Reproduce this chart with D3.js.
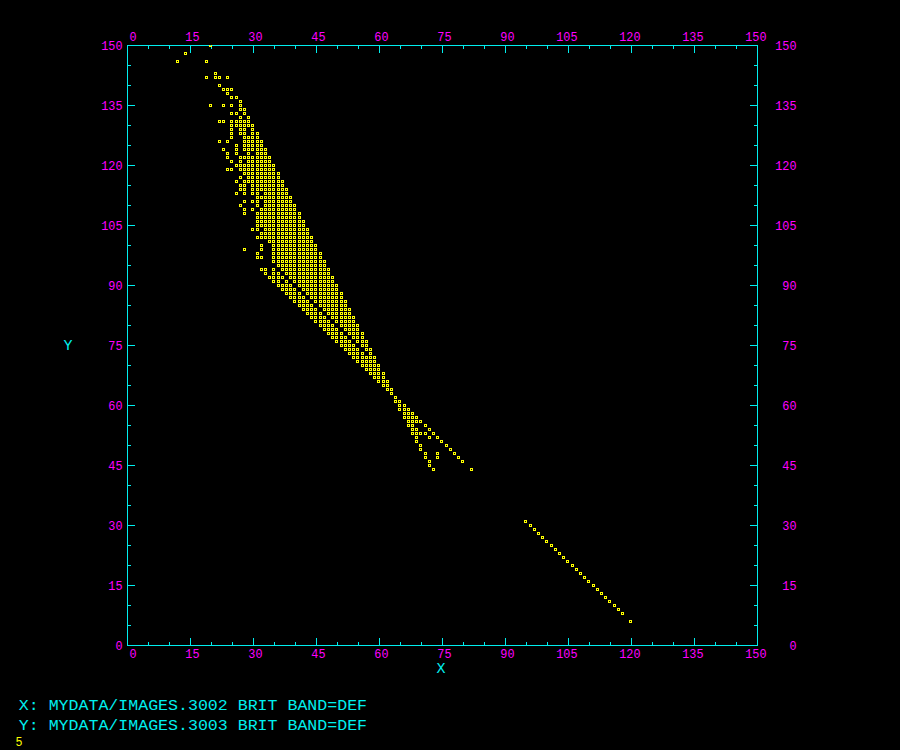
<!DOCTYPE html>
<html>
<head>
<meta charset="utf-8">
<script src="https://cdn.jsdelivr.net/npm/d3@7"></script>
<style>
html,body{margin:0;padding:0;background:#000;overflow:hidden}
svg{display:block;background:#000}
text{font-family:"Liberation Mono",monospace}
</style>
</head>
<body>
<svg id="chart" width="900" height="750"></svg>
<script>
const axisDomain = [0, 150];
const majorTicks = [0, 15, 30, 45, 60, 75, 90, 105, 120, 135, 150];
const minorTicks = [5, 10, 20, 25, 35, 40, 50, 55, 65, 70, 80, 85, 95, 100, 110, 115, 125, 130, 140, 145];
const xTitle = "X";
const yTitle = "Y";
const footerLines = ["X: MYDATA/IMAGES.3002 BRIT BAND=DEF", "Y: MYDATA/IMAGES.3003 BRIT BAND=DEF"];
const cornerNumber = "5";

const scatterRows = [
[150,[20]],[148,[14]],[146,[12,19]],[143,[21]],[142,[19,21,22,24]],[140,[22]],
[139,[23,24,25]],[138,[24]],[137,[25,26]],[136,[27]],[135,[20,23,25,27]],[134,[27,28]],
[133,[25,26,28]],[132,[27,29]],[131,[22,23,25,26,27,28,29]],[130,[25,26,27,28,29,30]],
[129,[25,27,28,30]],[128,[25,27,28,30,31]],[127,[25,28,29,30,31]],[126,[22,24,28,29,30,31,32]],
[125,[26,28,29,30,31,32]],[124,[23,26,28,29,30,31,32,33]],[123,[24,26,29,31,32,33]],
[122,[24,27,28,29,30,31,32,33,34]],[121,[25,27,29,30,31,32,33,34]],
[120,[26,27,28,29,30,31,32,33,34,35]],[119,[24,25,27,28,29,30,31,32,33,34,35]],
[118,[28,29,30,31,32,33,34,35,36]],[117,[27,29,30,31,32,33,34,35,36]],
[116,[26,28,29,30,31,32,33,34,35,36,37]],[115,[27,28,30,31,32,33,34,35,36,37]],
[114,[27,28,30,31,32,33,34,35,36,37,38]],[113,[26,28,30,31,33,34,35,36,37,38]],
[112,[31,32,33,34,35,36,37,38,39]],[111,[28,30,31,33,34,35,36,37,38,39]],
[110,[27,31,33,34,35,36,37,38,39,40]],[109,[28,30,32,33,34,35,36,37,38,39,40]],
[108,[28,31,32,33,34,35,36,37,38,39,40,41]],[107,[31,32,33,34,35,36,37,38,39,40,41]],
[106,[31,32,33,34,35,36,37,38,39,40,41,42]],[105,[31,32,33,34,35,36,37,38,39,40,41,42]],
[104,[30,31,33,34,35,36,37,38,39,40,41,42,43]],[103,[32,33,34,35,36,37,38,39,40,41,42,43]],
[102,[31,32,33,34,35,36,37,38,39,40,41,42,43,44]],[101,[34,35,36,37,38,39,40,41,42,43,44]],
[100,[32,35,36,37,38,39,40,41,42,43,44,45]],[99,[28,32,35,36,37,38,39,40,41,42,43,44,45]],
[98,[31,35,36,37,38,39,40,41,42,43,44,45,46]],[97,[31,32,35,36,37,38,39,40,41,42,43,44,45,46]],
[96,[35,36,37,38,39,40,41,42,43,44,45,46,47]],[95,[36,37,38,39,40,41,42,43,44,45,46,47]],
[94,[32,33,35,37,38,39,40,41,42,43,44,45,46,47,48]],[93,[33,35,36,38,39,40,41,42,43,44,45,46,47,48]],
[92,[34,35,36,37,39,40,41,42,43,44,45,46,47,48,49]],[91,[35,36,38,40,41,42,43,44,45,46,47,48,49]],
[90,[36,37,38,39,41,42,43,44,45,46,47,48,49,50]],[89,[37,38,39,40,42,43,44,45,46,47,48,49,50]],
[88,[38,39,40,41,43,44,45,46,47,48,49,50,51]],[87,[39,40,41,42,44,45,46,47,48,49,50,51]],
[86,[40,41,42,43,45,46,47,48,49,50,51,52]],[85,[41,42,43,44,46,47,48,49,50,51,52]],
[84,[42,43,44,45,47,48,49,50,51,52,53]],[83,[43,44,45,46,48,49,50,51,52,53]],
[82,[44,45,46,47,49,50,51,52,53,54]],[81,[45,46,47,48,50,51,52,53,54]],
[80,[46,47,48,49,51,52,53,54,55]],[79,[47,48,49,50,52,53,54,55]],
[78,[48,49,50,51,53,54,55,56]],[77,[49,50,51,52,54,55,56]],
[76,[50,51,52,53,55,56,57]],[75,[51,52,53,54,56,57]],
[74,[52,53,54,55,57,58]],[73,[53,54,55,56,58]],
[72,[54,55,56,57,58,59]],[71,[55,56,57,58,59]],
[70,[56,57,58,59,60]],[69,[57,58,59,60]],[68,[58,59,60,61]],[67,[59,60,61]],
[66,[60,61,62]],[65,[61,62]],[64,[62,63]],[63,[63]],[62,[64]],[61,[64,65]],
[60,[65,66]],[59,[65,66,67]],[58,[66,67,68]],[57,[66,67,68,69]],[56,[67,68,69,70]],
[55,[67,68,71]],[54,[68,69,72]],[53,[68,69,70,71,73]],[52,[69,72,74]],[51,[69,75]],
[50,[70,76]],[49,[70,77]],[48,[71,74,78]],[47,[71,74,79]],[46,[72,80]],[45,[72]],[44,[73,82]],
[31,[95]],[30,[96]],[29,[97]],[28,[98]],[27,[99]],[26,[100]],[25,[101]],[24,[102]],[23,[103]],
[22,[104]],[21,[105]],[20,[106]],[19,[107]],[18,[108]],[17,[109]],[16,[110]],[15,[111]],
[14,[112]],[13,[113]],[12,[114]],[11,[115]],[10,[116]],[9,[117]],[8,[118]],[6,[120]]
];

const cyan = "#00eeee", magenta = "#ff00ff", yellow = "#ffff00";
const svg = d3.select("#chart");
const L = 127.5, R = 757.5, T = 45.5, B = 645.5;
const x = d3.scaleLinear().domain(axisDomain).range([L, R]);
const y = d3.scaleLinear().domain(axisDomain).range([B, T]);
const cellX = d3.scaleLinear().domain(axisDomain).range([L - 0.6, R - 0.6]);

svg.append("defs").append("clipPath").attr("id", "plot")
  .append("rect").attr("x", 0).attr("y", 45).attr("width", 900).attr("height", 705);

function styleText(sel, len, size, fill) {
  sel.attr("fill", fill).attr("font-size", size).attr("stroke", "none")
     .attr("textLength", function () { return this.textContent.length * len; })
     .attr("lengthAdjust", "spacingAndGlyphs");
}

const sides = [
  {make: d3.axisBottom, scale: x, at: `translate(0,${B})`, horizontal: true, lx: 9, ly: 12.5},
  {make: d3.axisTop,    scale: x, at: `translate(0,${T})`, horizontal: true, lx: 9, ly: -4.5},
  {make: d3.axisLeft,   scale: y, at: `translate(${L},0)`, horizontal: false, lx: -5, ly: 0},
  {make: d3.axisRight,  scale: y, at: `translate(${R},0)`, horizontal: false, lx: 39, ly: 0}
];

sides.forEach(s => {
  const minor = svg.append("g").attr("transform", s.at)
    .call(s.make(s.scale).offset(0).tickValues(minorTicks).tickSize(-3.5).tickFormat(""));
  minor.select(".domain").remove();
  minor.selectAll("line").attr("stroke", cyan).attr("shape-rendering", "crispEdges");

  const major = svg.append("g").attr("transform", s.at)
    .call(s.make(s.scale).offset(0).tickValues(majorTicks).tickSize(-7.5).tickFormat(d3.format("d")));
  major.select(".domain").remove();
  major.selectAll("line").attr("stroke", cyan).attr("shape-rendering", "crispEdges");
  major.attr("font-family", null).attr("font-size", null);
  const labels = major.selectAll("text")
    .attr("text-anchor", "end")
    .attr("dy", s.horizontal ? "0" : 4.5)
    .attr("x", s.lx);
  if (s.horizontal) labels.attr("y", s.ly);
  styleText(labels, 7.1, 12.5, magenta);
});

svg.append("rect").attr("x", L).attr("y", T).attr("width", R - L).attr("height", B - T)
  .attr("fill", "none").attr("stroke", cyan).attr("shape-rendering", "crispEdges");

const points = scatterRows.flatMap(([v, xs]) => xs.map(u => ({u, v})));
function markerPath(d) {
  const c = Math.floor(cellX(d.u)), r = Math.floor(y(d.v));
  return `M${c - 1} ${r - 1}h3v3h-3zM${c} ${r}h1v1h-1z`;
}
svg.append("g").attr("clip-path", "url(#plot)").selectAll("path").data(points).join("path")
  .attr("d", markerPath)
  .attr("fill", yellow).attr("fill-rule", "evenodd")
  .attr("shape-rendering", "crispEdges");

styleText(svg.append("text").attr("x", 436.5).attr("y", 673.4).text(xTitle), 9, 14, cyan);
styleText(svg.append("text").attr("x", 63.5).attr("y", 350).text(yTitle), 9, 15.5, cyan);

svg.selectAll("text.footer").data(footerLines).join("text").attr("class", "footer")
  .attr("x", 18.8).attr("y", (d, i) => 710 + i * 20).text(d => d)
  .call(styleText, 9.95, 15.5, cyan);

styleText(svg.append("text").attr("x", 15.5).attr("y", 746.2).text(cornerNumber), 7, 12.5, yellow);
</script>
</body>
</html>
